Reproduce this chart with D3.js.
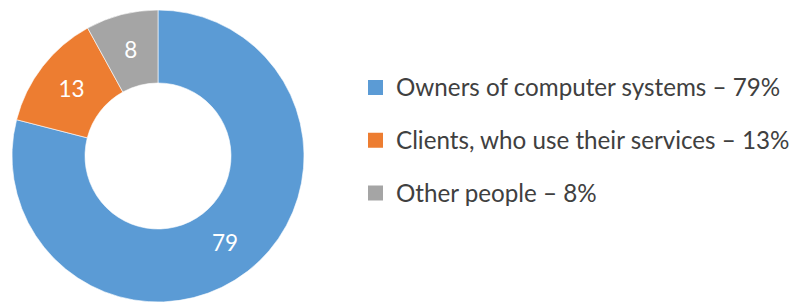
<!DOCTYPE html>
<html><head><meta charset="utf-8">
<script src="https://cdn.jsdelivr.net/npm/d3@7"></script>
<style>html,body{margin:0;padding:0;background:#fff;}</style>
</head><body>
<svg id="chart" width="795" height="303"></svg>
<script>
const categories = ["Owners of computer systems", "Clients, who use their services", "Other people"];
const values = [79, 13, 8];
const legendLabels = ["Owners of computer systems \u2013 79%", "Clients, who use their services \u2013 13%", "Other people \u2013 8%"];
const colors = ["#5B9BD5", "#ED7D31", "#A5A5A5"];

const svg = d3.select("#chart");
const cx = 158, cy = 156, outerR = 146, innerR = 73;
const color = d3.scaleOrdinal().domain(categories).range(colors);
const pie = d3.pie().sort(null).value(d => d.v);
const data = pie(categories.map((c, i) => ({c, v: values[i]})));
const arc = d3.arc().innerRadius(innerR).outerRadius(outerR);

const g = svg.append("g").attr("transform", `translate(${cx},${cy})`);
g.selectAll("path").data(data).enter().append("path")
  .attr("d", arc).attr("fill", d => color(d.data.c))
  .attr("stroke", "#fff").attr("stroke-width", 0.6);
g.selectAll("text").data(data).enter().append("text")
  .attr("transform", d => `translate(${arc.centroid(d)})`)
  .attr("text-anchor", "middle").attr("dy", "0.36em")
  .attr("fill", "#fff").style("font-family", "Lato, 'Open Sans', sans-serif")
  .style("font-size", "22.5px").text(d => d.data.v);

const legendY = d3.scalePoint().domain(categories).range([87.5, 193]);
const lg = svg.append("g");
const rows = lg.selectAll("g").data(categories).enter().append("g")
  .attr("transform", d => `translate(368,${legendY(d)})`);
rows.append("rect").attr("x", 0).attr("y", -7.5).attr("width", 15).attr("height", 15)
  .attr("fill", d => color(d));
rows.append("text").attr("x", 28).attr("dy", "0.36em")
  .attr("fill", "#404040").style("font-family", "Lato, 'Open Sans', sans-serif")
  .style("font-size", "24.2px").text((d, i) => legendLabels[i]);
</script>
</body></html>
